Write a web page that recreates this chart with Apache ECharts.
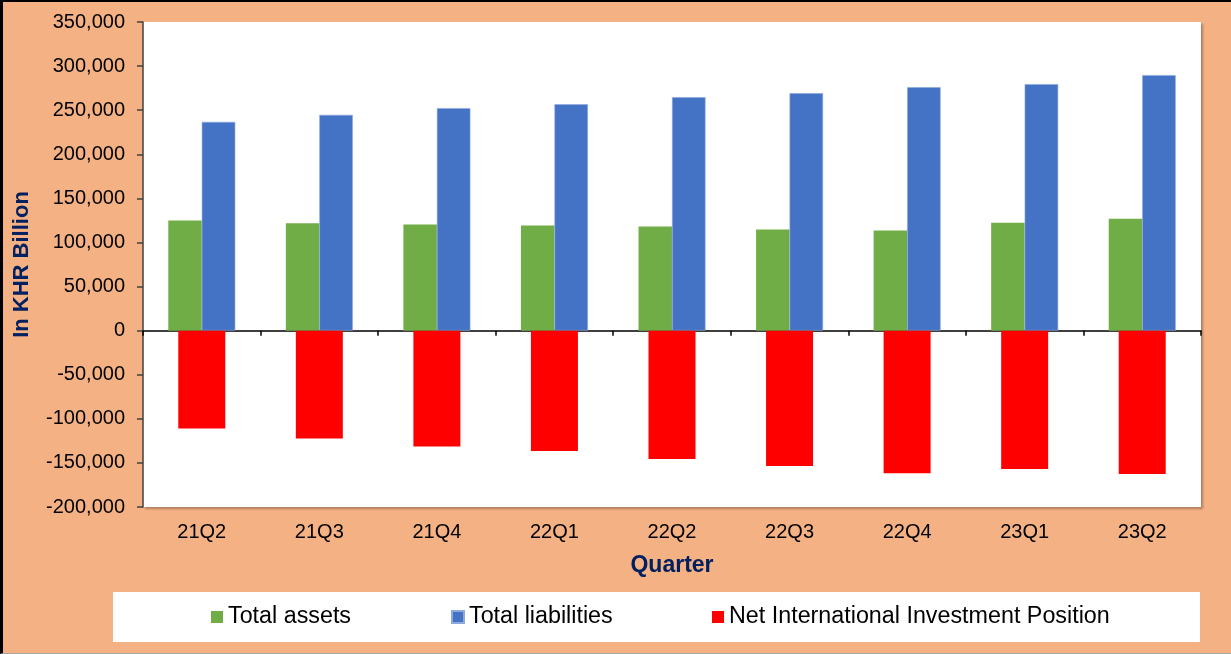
<!DOCTYPE html>
<html>
<head>
<meta charset="utf-8">
<script src="https://cdn.jsdelivr.net/npm/echarts@6/dist/echarts.min.js"></script>
<style>
  html, body { margin: 0; padding: 0; background: #F4B183; }
  #chart { position: absolute; left: 0; top: 0; width: 1231px; height: 654px; }
  #frame { position: absolute; left: 0; top: 0; width: 1231px; height: 654px; box-sizing: border-box;
           border-left: 3px solid #000; border-top: 2px solid #000; border-bottom: 1px solid #A8A8A8; pointer-events: none; }
</style>
</head>
<body>
<div id="chart"></div>
<div id="frame"></div>
<script>
const categories = ['21Q2', '21Q3', '21Q4', '22Q1', '22Q2', '22Q3', '22Q4', '23Q1', '23Q2'];
const totalAssets = [125000, 121900, 120500, 119300, 118200, 114800, 113600, 122400, 126900];
const totalLiabilities = [236700, 244700, 252300, 256800, 264800, 269300, 276100, 279500, 289800];
const niip = [-111000, -122400, -131500, -136400, -145500, -153400, -161700, -156800, -162500];

const FONT = 'Arial, "Liberation Sans", sans-serif';
const chart = echarts.init(document.getElementById('chart'), null, { renderer: 'canvas' });

chart.setOption({
  backgroundColor: '#F4B183',
  animation: false,
  textStyle: { fontFamily: FONT },
  graphic: [{
    type: 'rect', left: 113, top: 592, z: -1,
    shape: { width: 1087, height: 50 },
    style: { fill: '#FFFFFF' }
  }],
  grid: {
    left: 143, right: 30, top: 22, bottom: 147,
    show: true, backgroundColor: '#FFFFFF', borderWidth: 0,
    shadowColor: 'rgba(0,0,0,0.28)', shadowOffsetX: 2, shadowOffsetY: 2, shadowBlur: 2
  },
  legend: [
    { data: ['Total assets'], left: 211, top: 605 },
    { data: ['Total liabilities'], left: 451, top: 605 },
    { data: ['Net International Investment Position'], left: 712, top: 605 }
  ].map(l => Object.assign({
    itemWidth: 12, itemHeight: 12, itemGap: 0, padding: 0,
    icon: 'rect',
    textStyle: { fontSize: 23.3, color: '#000', fontFamily: FONT, padding: [0, 0, 0, 0], lineHeight: 24 }
  }, l)),
  xAxis: [
    {
      type: 'category', data: categories, position: 'bottom',
      axisLine: { show: true, onZero: true, lineStyle: { color: '#000', width: 1.5 } },
      axisTick: { show: true, length: 5, inside: false, lineStyle: { color: '#000', width: 1.5 } },
      axisLabel: { show: false },
      splitLine: { show: false }
    },
    {
      type: 'category', data: categories, position: 'bottom',
      axisLine: { show: false, onZero: false },
      axisTick: { show: false },
      axisLabel: { show: true, fontSize: 20, color: '#000', margin: 15, fontFamily: FONT },
      name: 'Quarter', nameLocation: 'middle', nameGap: 47,
      nameTextStyle: { fontSize: 23, fontWeight: 'bold', color: '#002060', fontFamily: FONT },
      splitLine: { show: false }
    }
  ],
  yAxis: {
    type: 'value', min: -200000, max: 350000, interval: 50000,
    axisLine: { show: true, lineStyle: { color: '#404040', width: 1.5 } },
    axisTick: { show: true, length: 6, lineStyle: { color: '#404040', width: 1.5 } },
    axisLabel: {
      fontSize: 20, color: '#000', margin: 18, fontFamily: FONT,
      formatter: v => v.toLocaleString('en-US')
    },
    splitLine: { show: false },
    name: 'In KHR Billion', nameLocation: 'middle', nameGap: 110, nameRotate: 90,
    nameTextStyle: { fontSize: 22, fontWeight: 'bold', color: '#002060', fontFamily: FONT }
  },
  series: [
    {
      name: 'Total assets', type: 'bar', xAxisIndex: 0, data: totalAssets,
      barWidth: 33.5, barGap: '0%',
      itemStyle: { color: '#70AD47' }
    },
    {
      name: 'Total liabilities', type: 'bar', xAxisIndex: 0, data: totalLiabilities,
      barWidth: 33.5, barGap: '0%',
      itemStyle: { color: '#4472C4', borderColor: '#8EA9DB', borderWidth: 0.6 }
    },
    {
      name: 'Net International Investment Position', type: 'bar', xAxisIndex: 1, data: niip,
      barWidth: 47,
      itemStyle: { color: '#FF0000' }
    }
  ]
});
</script>
</body>
</html>
